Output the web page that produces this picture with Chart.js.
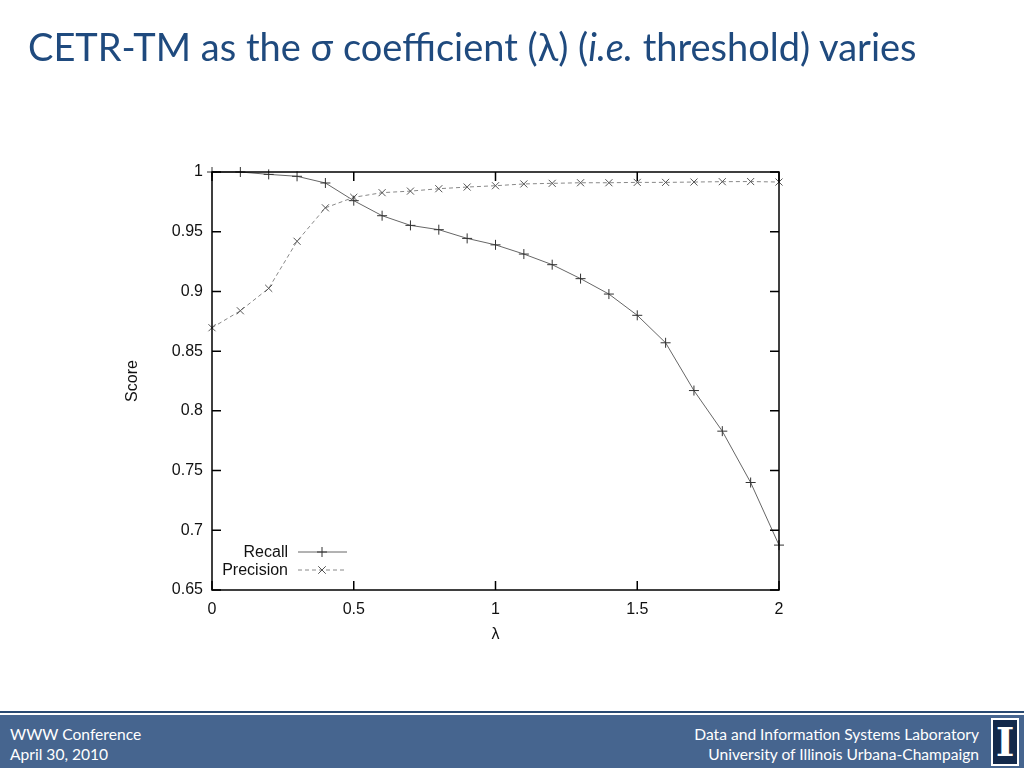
<!DOCTYPE html>
<html>
<head>
<meta charset="utf-8">
<script src="https://cdn.jsdelivr.net/npm/chart.js@4.4.0/dist/chart.umd.min.js"></script>
<style>
    body { margin: 0; background: #fff; width: 1024px; height: 768px; overflow: hidden; position: relative; font-family: Lato, "Open Sans", sans-serif; }
    #title { position: absolute; left: 28px; top: 23px; font-size: 38px; color: #1f4a7e; white-space: nowrap; z-index: 2; }
    #chart { position: absolute; left: 0; top: 0; }
    #footer { position: absolute; left: 0; top: 711px; width: 1024px; height: 57px; background: #46658f; border-top: 2px solid #2a4a72; box-shadow: inset 0 2px 0 #fff; color: #fff; font-size: 15.6px; }
    #footer .left { position: absolute; left: 10px; top: 11px; line-height: 20px; }
    #footer .right { position: absolute; right: 45px; top: 11px; line-height: 20px; text-align: right; }
    #logo { position: absolute; left: 991px; top: 5px; width: 24px; height: 44px; background: #13294b; border: 2px solid #fff; color: #fff; font: bold 40px "DejaVu Serif", serif; line-height: 44px; text-align: center; }
</style>
</head>
<body>
<div id="title">CETR-TM as the σ coefficient (λ) (<i>i.e.</i> threshold) varies</div>
<canvas id="chart" width="1024" height="700"></canvas>
<div id="footer">
    <div class="left">WWW Conference<br>April 30, 2010</div>
    <div class="right">Data and Information Systems Laboratory<br>University of Illinois Urbana-Champaign</div>
    <div id="logo">I</div>
</div>
<script>
var lambdas = [0, 0.1, 0.2, 0.3, 0.4, 0.5, 0.6, 0.7, 0.8, 0.9, 1.0, 1.1, 1.2, 1.3, 1.4, 1.5, 1.6, 1.7, 1.8, 1.9, 2.0];
var recall = [1.0, 1.0, 0.998, 0.9964, 0.9908, 0.976, 0.9634, 0.9553, 0.9517, 0.9444, 0.939, 0.9313, 0.9224, 0.9107, 0.8978, 0.880, 0.857, 0.817, 0.783, 0.740, 0.6876];
var precision = [0.8696, 0.8838, 0.9026, 0.942, 0.970, 0.9788, 0.9827, 0.984, 0.986, 0.9874, 0.9885, 0.990, 0.9905, 0.991, 0.991, 0.9913, 0.9913, 0.9916, 0.9919, 0.992, 0.9916];
var xTicks = [0, 0.5, 1, 1.5, 2];

var fontFamily = '"Liberation Sans", Arial, sans-serif';

function toPoints(values) {
    var pts = [];
    for (i = 0; i < lambdas.length; i++) {
        pts.push({ x: lambdas[i], y: values[i] });
    }
    return pts;
}

// gnuplot style box, inward ticks on all sides, legend in the lower left
var gnuplotFrame = {
    id: 'gnuplotFrame',
    afterDatasetsDraw: function(chart) {
        var ctx = chart.ctx;
        var area = chart.chartArea;
        var xs = chart.scales.x;
        var ys = chart.scales.y;
        var len = 9;
        ctx.save();
        ctx.strokeStyle = '#000';
        ctx.lineWidth = 1.5;
        ctx.strokeRect(area.left, area.top, area.right - area.left, area.bottom - area.top);
        ctx.beginPath();
        xs.ticks.forEach(function(t) {
            var px = xs.getPixelForValue(t.value);
            ctx.moveTo(px, area.bottom); ctx.lineTo(px, area.bottom - len);
            ctx.moveTo(px, area.top); ctx.lineTo(px, area.top + len);
        });
        ys.ticks.forEach(function(t) {
            var py = ys.getPixelForValue(t.value);
            ctx.moveTo(area.left, py); ctx.lineTo(area.left + len, py);
            ctx.moveTo(area.right, py); ctx.lineTo(area.right - len, py);
        });
        ctx.stroke();

        // legend
        ctx.font = '16px ' + fontFamily;
        ctx.textAlign = 'right';
        ctx.textBaseline = 'middle';
        var textX = area.left + 76;
        var y0 = area.bottom - 38;
        chart.data.datasets.forEach(function(ds, k) {
            var y = y0 + k * 18;
            ctx.fillStyle = '#111';
            ctx.fillText(ds.label, textX, y + 1);
            ctx.beginPath();
            ctx.strokeStyle = ds.borderColor;
            ctx.lineWidth = 1;
            ctx.setLineDash(ds.borderDash || []);
            ctx.moveTo(textX + 10, y); ctx.lineTo(textX + 59, y);
            ctx.stroke();
            ctx.setLineDash([]);
            ctx.beginPath();
            ctx.strokeStyle = ds.pointBorderColor;
            var cx = textX + 34, r = 5;
            if (ds.pointStyle == 'cross') {
                ctx.moveTo(cx - r, y); ctx.lineTo(cx + r, y);
                ctx.moveTo(cx, y - r); ctx.lineTo(cx, y + r);
            } else {
                var d = r * 0.75;
                ctx.moveTo(cx - d, y - d); ctx.lineTo(cx + d, y + d);
                ctx.moveTo(cx - d, y + d); ctx.lineTo(cx + d, y - d);
            }
            ctx.stroke();
        });
        ctx.restore();
    }
};

var ctx = document.getElementById('chart').getContext('2d');
var myChart = new Chart(ctx, {
    type: 'line',
    data: {
        datasets: [{
            label: 'Recall',
            data: toPoints(recall),
            borderColor: '#666',
            borderWidth: 1,
            pointStyle: 'cross',
            pointRadius: 5,
            pointBorderColor: '#333',
            pointBorderWidth: 1,
            fill: false,
            clip: false
        }, {
            label: 'Precision',
            data: toPoints(precision),
            borderColor: '#888',
            borderWidth: 1,
            borderDash: [4, 3],
            pointStyle: 'crossRot',
            pointRadius: 5,
            pointBorderColor: '#555',
            pointBorderWidth: 1,
            fill: false,
            clip: false
        }]
    },
    options: {
        responsive: false,
        animation: false,
        layout: { padding: { left: 112, right: 245, top: 172, bottom: 50 } },
        plugins: {
            legend: { display: false },
            tooltip: { enabled: false }
        },
        scales: {
            x: {
                type: 'linear',
                min: 0,
                max: 2,
                afterBuildTicks: function(scale) {
                    scale.ticks = xTicks.map(function(v) { return { value: v }; });
                },
                afterFit: function(scale) { scale.height = 60; },
                grid: { drawOnChartArea: false, drawTicks: false },
                border: { display: false },
                ticks: {
                    padding: 10,
                    color: '#111',
                    font: { family: fontFamily, size: 16 },
                    maxRotation: 0,
                    callback: function(v) { return String(v); }
                },
                title: {
                    display: true,
                    text: 'λ',
                    color: '#111',
                    font: { family: fontFamily, size: 16 },
                    padding: { top: 0, bottom: 6 }
                }
            },
            y: {
                min: 0.65,
                max: 1,
                afterFit: function(scale) { scale.width = 100; },
                grid: { drawOnChartArea: false, drawTicks: false },
                border: { display: false },
                ticks: {
                    stepSize: 0.05,
                    padding: 9,
                    color: '#111',
                    font: { family: fontFamily, size: 16 },
                    callback: function(v) { return String(Number(v.toFixed(2))); }
                },
                title: {
                    display: true,
                    text: 'Score',
                    color: '#111',
                    font: { family: fontFamily, size: 16 },
                    padding: { top: 11, bottom: 0 }
                }
            }
        }
    },
    plugins: [gnuplotFrame]
});
</script>
</body>
</html>
